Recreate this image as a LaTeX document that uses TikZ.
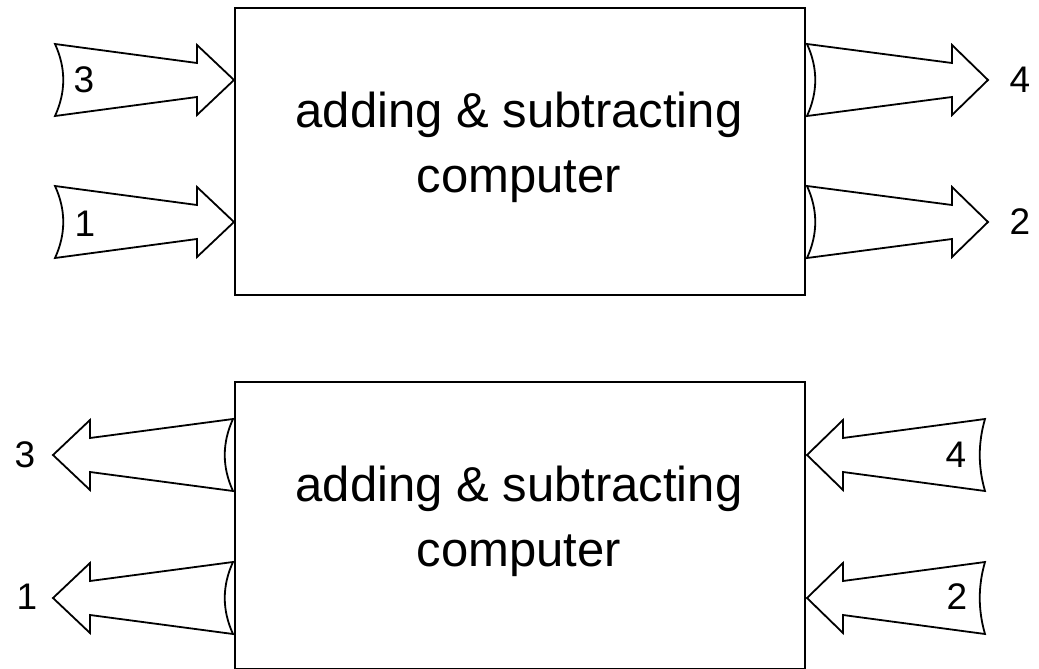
\documentclass[tikz,border=0pt]{standalone}
\usepackage{fontspec}
\setmainfont{Liberation Sans}
\newcommand\fatarr[5]{% tail x, head base x, tip x, centre y, bulge control x
  \draw[fatarrow] (#1,{#4-36}) -- (#2,{#4-17}) -- (#2,{#4-35}) -- (#3,#4) -- (#2,{#4+35}) -- (#2,{#4+17}) -- (#1,{#4+36}) .. controls (#5,{#4+12}) and (#5,{#4-12}) .. cycle;}
\begin{document}
\begin{tikzpicture}[x=1pt,y=-1pt,
  computerbox/.style={draw,line width=2pt,minimum width=570pt,minimum height=287pt,inner sep=0pt},
  boxtext/.style={anchor=base,inner sep=0pt,font=\fontsize{49}{60}\selectfont},
  fatarrow/.style={draw,line width=1.8pt,line join=miter},
  numlabel/.style={font=\fontsize{37}{37}\selectfont,inner sep=0pt}]
\useasboundingbox (0,0) rectangle (1039,669);
% top
\node[computerbox] (top) at (520,151.5) {};
\node[boxtext] (toptext1) at (519,127) {adding \& subtracting};
\node[boxtext] (toptext2) at (519,192) {computer};
\fatarr{55}{197}{234}{80}{66}
\fatarr{55}{197}{234}{222}{66}
\fatarr{807}{952}{988}{80}{818}
\fatarr{807}{952}{988}{222}{818}
\node[numlabel] (t3) at (84,80) {3};
\node[numlabel] (t1) at (85,224) {1};
\node[numlabel] (t4) at (1020,80) {4};
\node[numlabel] (t2) at (1020,222) {2};
% bottom
\node[computerbox] (bot) at (520,525) {};
\node[boxtext] (bottext1) at (519,501) {adding \& subtracting};
\node[boxtext] (bottext2) at (519,566) {computer};
\fatarr{233}{90}{53}{455}{222}
\fatarr{233}{90}{53}{598}{222}
\fatarr{985}{843}{807}{455}{978}
\fatarr{985}{843}{807}{598}{978}
\node[numlabel] (b3) at (25,455) {3};
\node[numlabel] (b1) at (27,597) {1};
\node[numlabel] (b4) at (956,455) {4};
\node[numlabel] (b2) at (957,597) {2};
\end{tikzpicture}
\end{document}
